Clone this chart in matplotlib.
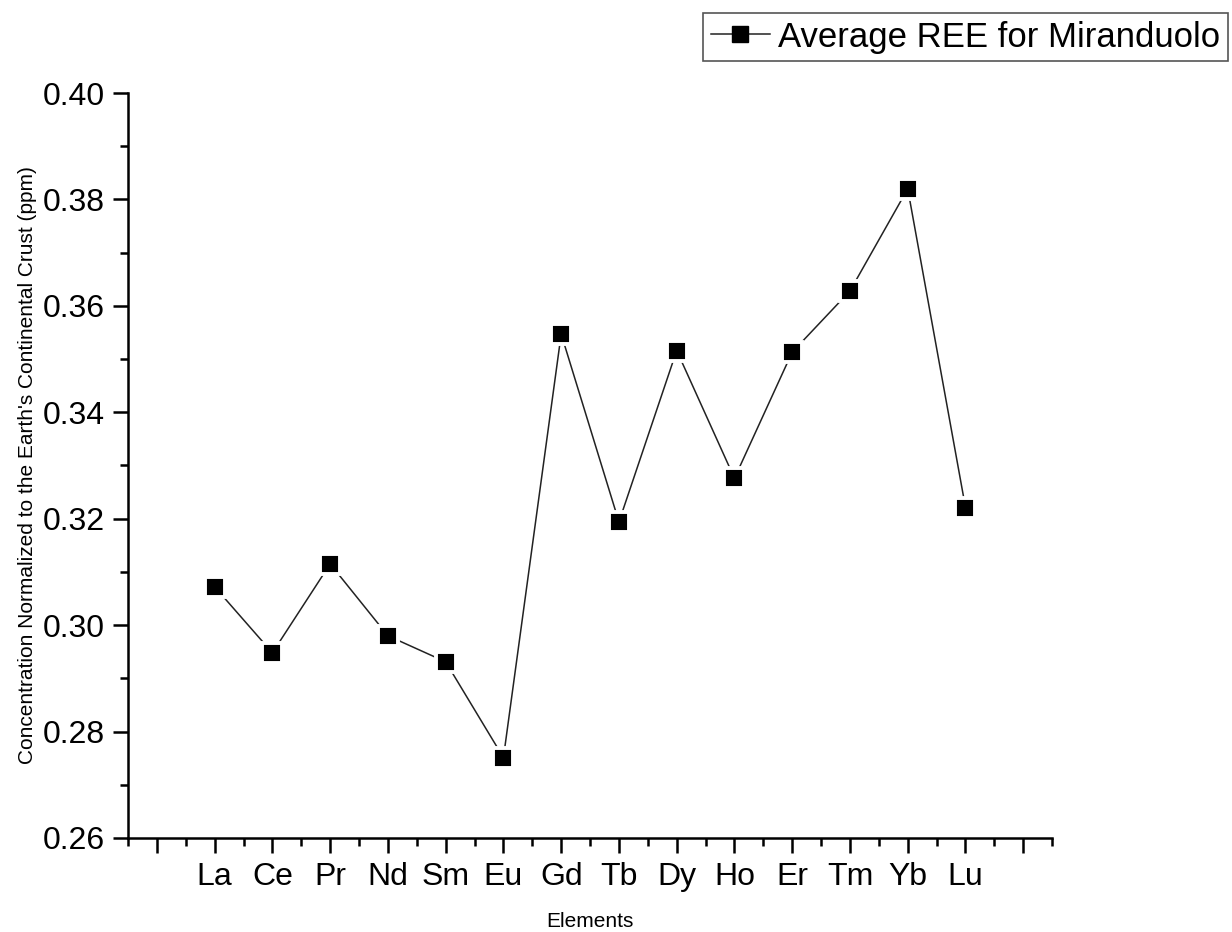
import numpy as np
import matplotlib
matplotlib.use("Agg")
import matplotlib.pyplot as plt
from matplotlib.ticker import MultipleLocator, FixedLocator, FormatStrFormatter

plt.rcParams['font.family'] = ['Liberation Sans', 'DejaVu Sans']

# REE concentrations normalized to continental crust
elements = ["La", "Ce", "Pr", "Nd", "Sm", "Eu", "Gd", "Tb",
            "Dy", "Ho", "Er", "Tm", "Yb", "Lu"]
ree_avg = [0.3072, 0.2948, 0.3115, 0.2980, 0.2931, 0.2751, 0.3547, 0.3194,
           0.3516, 0.3276, 0.3513, 0.3628, 0.3820, 0.3221]
series_name = "Average REE for Miranduolo"

fig = plt.figure(figsize=(12.32, 9.32), dpi=100)
ax = fig.add_axes([0.1039, 0.1009, 0.854 - 0.1039, 0.9002 - 0.1009])

x = np.arange(1, len(elements) + 1)

# connecting line, then markers with a white rim so the line stops short of them
ax.plot(x, ree_avg, color="#222222", lw=1.1, zorder=2)
ax.plot(x, ree_avg, ls="none", marker="s", ms=14.5, mfc="black",
        mec="white", mew=2.8, zorder=3)

# proxy for legend
handle, = ax.plot([], [], color="#222222", lw=1.1, marker="s", ms=11.5,
                  mfc="black", mec="black", label=series_name)

ax.set_xlim(-0.5, 15.5)
ax.set_ylim(0.26, 0.40)

ax.xaxis.set_major_locator(FixedLocator(np.arange(0, 16)))
ax.set_xticklabels([""] + elements + [""])
ax.xaxis.set_minor_locator(FixedLocator(np.arange(-0.5, 16, 1.0)))
ax.yaxis.set_major_locator(MultipleLocator(0.02))
ax.yaxis.set_minor_locator(MultipleLocator(0.01))
ax.yaxis.set_major_formatter(FormatStrFormatter("%.2f"))

for side in ("top", "right"):
    ax.spines[side].set_visible(False)
for side in ("left", "bottom"):
    ax.spines[side].set_linewidth(1.8)

ax.tick_params(which="major", direction="out", length=11, width=1.8,
               labelsize=23, pad=6)
ax.tick_params(which="minor", direction="out", length=6, width=1.8)

ax.set_xlabel("Elements", fontsize=15, labelpad=15)
ax.set_ylabel("Concentration Normalized to the Earth's Continental Crust (ppm)",
              fontsize=15, labelpad=4)

leg = fig.legend(handles=[handle], loc="upper right",
                 bbox_to_anchor=(1228 / 1232, 1 - 13 / 932),
                 fontsize=25, fancybox=False, framealpha=1,
                 edgecolor="#555555", borderpad=0.22, borderaxespad=0,
                 handlelength=1.7, handletextpad=0.25)
leg.get_frame().set_linewidth(1.2)

fig.savefig("out.png", dpi=100)
